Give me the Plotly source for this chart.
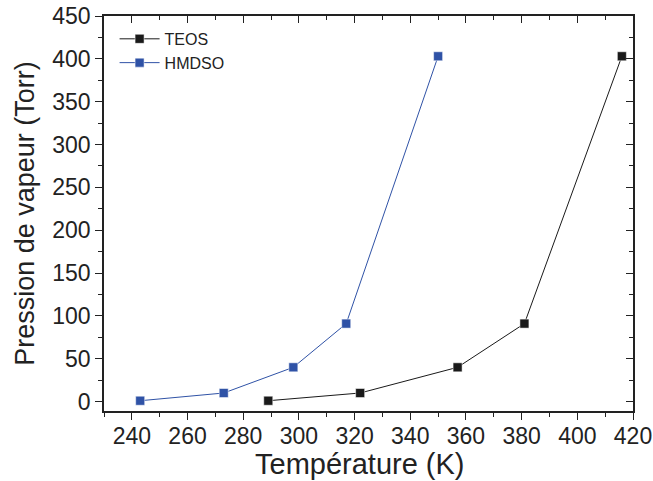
import plotly.graph_objects as go

# Vapour pressure of the two precursors
teos_T = [289, 322, 357, 381, 416]
teos_P = [1, 10, 40, 91, 403]
hmdso_T = [243, 273, 298, 317, 350]
hmdso_P = [1, 10, 40, 91, 403]

x_ticks = [240, 260, 280, 300, 320, 340, 360, 380, 400, 420]
y_ticks = [0, 50, 100, 150, 200, 250, 300, 350, 400, 450]

FONT = "Liberation Sans, Arial, sans-serif"
X_RANGE = [230, 420]
Y_RANGE = [-11, 450]

fig = go.Figure()
fig.add_trace(go.Scatter(
    x=teos_T, y=teos_P, name="TEOS", mode="lines+markers",
    line=dict(color="#1a1a1a", width=1),
    marker=dict(symbol="square", size=9, color="#1a1a1a",
                line=dict(color="white", width=0.5)),
))
fig.add_trace(go.Scatter(
    x=hmdso_T, y=hmdso_P, name="HMDSO", mode="lines+markers",
    line=dict(color="#2f52a6", width=1),
    marker=dict(symbol="square", size=9, color="#2f52a6",
                line=dict(color="white", width=0.5)),
))

axis_common = dict(showgrid=False, zeroline=False, showline=True,
                   linecolor="#222", linewidth=1.5, tickcolor="#222",
                   tickwidth=1.2, automargin=False)

fig.update_layout(
    width=653, height=481,
    margin=dict(l=104, r=20, t=16, b=70),
    paper_bgcolor="white", plot_bgcolor="white",
    font=dict(family=FONT, color="#222"),
    showlegend=True,
    legend=dict(x=0.02, y=0.985, xanchor="left", yanchor="top",
                font=dict(size=16, family=FONT, color="#222"),
                bgcolor="rgba(0,0,0,0)", itemwidth=40,
                tracegroupgap=0),
    xaxis=dict(range=X_RANGE, tickvals=x_ticks, ticks="outside", ticklen=7,
               tickfont=dict(size=23), ticklabelstandoff=-3,
               minor=dict(dtick=10, tick0=230, ticks="outside", ticklen=4,
                          tickcolor="#222", tickwidth=1.2),
               **axis_common),
    yaxis=dict(range=Y_RANGE, tickvals=y_ticks, ticks="outside", ticklen=7,
               tickfont=dict(size=23), title=dict(text="Pression de vapeur (Torr)",
               font=dict(size=27), standoff=10),
               minor=dict(dtick=25, tick0=0, ticks="outside", ticklen=4,
                          tickcolor="#222", tickwidth=1.2),
               **axis_common),
    xaxis2=dict(range=X_RANGE, overlaying="x", side="top", tickvals=x_ticks,
                ticks="inside", ticklen=7, showticklabels=False,
                minor=dict(dtick=10, tick0=230, ticks="inside", ticklen=4,
                           tickcolor="#222", tickwidth=1.2),
                **axis_common),
    yaxis2=dict(range=Y_RANGE, overlaying="y", side="right", tickvals=y_ticks,
                ticks="inside", ticklen=7, showticklabels=False,
                minor=dict(dtick=25, tick0=0, ticks="inside", ticklen=4,
                           tickcolor="#222", tickwidth=1.2),
                **axis_common),
)

# x-axis title, placed slightly left of the axis centre
fig.add_annotation(text="Température (K)", xref="paper", yref="paper",
                   x=0.484, y=0, yshift=-53, xanchor="center", yanchor="middle",
                   showarrow=False, font=dict(size=29, family=FONT, color="#222"))

# invisible trace so the mirrored axes get drawn
fig.add_trace(go.Scatter(x=[None], y=[None], xaxis="x2", yaxis="y2",
                         showlegend=False, hoverinfo="skip"))

fig.write_html("out.html")
